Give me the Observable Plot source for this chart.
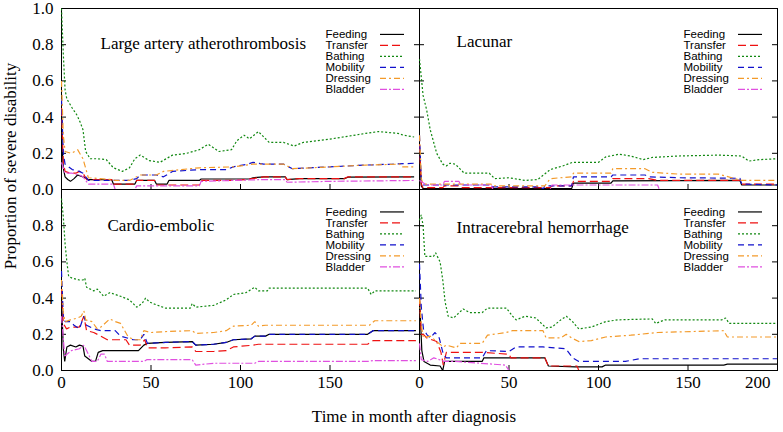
<!DOCTYPE html>
<html><head><meta charset="utf-8">
<script src="https://cdn.jsdelivr.net/npm/d3@7"></script>
<script src="https://cdn.jsdelivr.net/npm/@observablehq/plot@0.6"></script>
<style>body{margin:0;background:#fff} #chart{width:783px;height:432px}</style>
</head><body><div id="chart"></div>
<script>
// ---- categories & labels ----
const panelNames = ["Large artery atherothrombosis", "Lacunar", "Cardio-embolic", "Intracerebral hemorrhage"];
const panelCols = [0, 1, 0, 1];
const panelRows = [0, 0, 1, 1];
const seriesNames = ["Feeding", "Transfer", "Bathing", "Mobility", "Dressing", "Bladder"];
const seriesColors = ["#000000", "#ee1111", "#118811", "#1111cc", "#f39a2a", "#e050e0"];
const seriesDashes = ["none", "8,4", "2,2", "6,4", "6,3,2,3", "7,2,2,2"];
const xTicks = [0, 50, 100, 150, 200];
const yTicks = [0, 0.2, 0.4, 0.6, 0.8, 1.0];
const xTitle = "Time in month after diagnosis";
const yTitle = "Proportion of severe disability";

// ---- series values: [month, proportion] ----
// Large artery atherothrombosis
const laaFeeding = [[0,0.3],[1,0.12],[2,0.07],[3.5,0.055],[5,0.045],[7,0.06],[9,0.08],[12,0.07],[15,0.055],[28,0.055],[29,0.03],[41,0.03],[42,0.05],[52,0.05],[53,0.03],[59,0.03],[60,0.05],[77,0.05],[78,0.058],[105,0.058],[107,0.065],[113,0.07],[125,0.07],[126,0.055],[133,0.06],[158,0.06],[160,0.068],[197,0.07]];
const laaTransfer = [[0,0.45],[1,0.15],[2,0.1],[5,0.09],[8,0.09],[10,0.1],[12,0.09],[14,0.055],[28,0.055],[29,0.03],[41,0.03],[42,0.05],[52,0.05],[53,0.025],[77,0.025],[78,0.05],[96,0.05],[103,0.055],[110,0.065],[113,0.07],[125,0.07],[126,0.055],[133,0.06],[158,0.06],[160,0.07],[197,0.07]];
const laaBathing = [[0,1.0],[1,0.75],[2,0.55],[3,0.5],[6,0.45],[8.7,0.41],[10.5,0.37],[12,0.33],[13.5,0.21],[16,0.17],[20,0.17],[25,0.165],[29,0.12],[34,0.1],[38,0.12],[41,0.17],[44,0.19],[49,0.16],[55,0.15],[62,0.19],[70,0.2],[77,0.22],[82,0.25],[88,0.21],[95,0.22],[98,0.27],[102,0.3],[105,0.28],[110,0.32],[116,0.26],[124,0.26],[130,0.24],[135,0.26],[151,0.28],[170,0.31],[177,0.32],[188,0.31],[191,0.3],[197,0.29]];
const laaMobility = [[0,0.5],[1,0.2],[2,0.14],[6,0.11],[10,0.1],[12,0.09],[15,0.05],[38,0.05],[42,0.06],[44,0.08],[53,0.08],[57,0.07],[62,0.1],[77,0.11],[92,0.11],[96,0.125],[104,0.14],[107,0.15],[113,0.14],[124,0.14],[129,0.115],[150,0.125],[170,0.135],[185,0.14],[197,0.145]];
const laaDressing = [[0,0.6],[1,0.3],[2,0.21],[5.5,0.2],[9,0.22],[12,0.17],[15,0.065],[28,0.055],[30,0.05],[38,0.05],[42,0.07],[44,0.08],[53,0.08],[57,0.1],[77,0.12],[96,0.125],[107,0.14],[124,0.14],[129,0.115],[150,0.125],[170,0.135],[189,0.14],[190,0.125],[197,0.125]];
const laaBladder = [[0,0.15],[2,0.09],[6,0.09],[10,0.08],[12,0.07],[15,0.03],[29,0.03],[30,0.0],[41,0.0],[42,0.02],[77,0.02],[78,0.045],[96,0.05],[113,0.055],[125,0.055],[126,0.04],[150,0.045],[197,0.05]];
// Lacunar
const lacFeeding = [[0,0.2],[1,0.02],[2,0.005],[85,0.005],[86,0.035],[107,0.035],[108,0.048],[179,0.05],[180,0.025],[200,0.025]];
const lacTransfer = [[0,0.25],[1,0.03],[2,0.01],[13,0.01],[14,0.02],[22,0.02],[23,0.01],[73,0.01],[74,0.02],[85,0.02],[86,0.045],[107,0.045],[108,0.06],[128,0.06],[133,0.05],[179,0.05],[180,0.03],[200,0.03]];
const lacBathing = [[0,0.72],[1,0.62],[2,0.52],[4,0.44],[6,0.33],[9.6,0.2],[13,0.14],[15,0.13],[17,0.145],[20,0.14],[25,0.09],[39,0.09],[42,0.06],[50,0.065],[59,0.05],[66,0.055],[73,0.11],[80,0.13],[85.5,0.15],[100,0.15],[104,0.18],[111.5,0.195],[118,0.185],[125,0.165],[130,0.177],[144,0.185],[167,0.19],[180,0.185],[184,0.157],[190,0.165],[200,0.17]];
const lacMobility = [[0,0.3],[1,0.05],[2,0.025],[40,0.025],[41,0.015],[68,0.015],[69,0.0],[70,0.02],[85,0.02],[86,0.07],[107,0.07],[108,0.08],[126,0.08],[128,0.07],[145,0.065],[179,0.062],[180,0.03],[200,0.025]];
const lacDressing = [[0,0.3],[1,0.06],[2,0.03],[40,0.03],[41,0.02],[70,0.02],[73,0.06],[85,0.07],[86,0.09],[107,0.09],[108,0.115],[126,0.115],[130,0.095],[145,0.085],[167,0.085],[180,0.05],[200,0.05]];
const lacBladder = [[0,0.05],[4,0.025],[13,0.025],[14,0.045],[22,0.045],[23,0.025],[40,0.025],[41,0.0],[73,0.0],[74,0.025],[133,0.025],[134,0.0],[200,0.0]];
// Cardio-embolic
const ceFeeding = [[0,0.4],[1,0.12],[1.8,0.05],[3,0.13],[5,0.14],[8,0.13],[10,0.14],[12,0.135],[13,0.08],[15,0.065],[17,0.05],[19,0.05],[20.5,0.1],[23,0.11],[43,0.11],[46,0.14],[48,0.15],[58,0.155],[73,0.16],[75,0.14],[85,0.145],[92,0.155],[96,0.17],[106,0.175],[108,0.19],[114,0.19],[116,0.2],[171,0.2],[174,0.22],[198,0.22]];
const ceTransfer = [[0,0.45],[1,0.26],[2.8,0.23],[5,0.24],[10,0.24],[12.5,0.3],[14,0.22],[18,0.21],[22,0.19],[25.6,0.17],[36,0.17],[38,0.14],[44,0.14],[46.5,0.17],[48,0.125],[58,0.125],[73,0.13],[75,0.105],[85,0.105],[92,0.11],[96,0.13],[107,0.14],[110,0.145],[171,0.145],[174,0.165],[198,0.165]];
const ceBathing = [[0,0.95],[1,0.85],[2,0.7],[3,0.6],[4,0.52],[6,0.51],[10,0.5],[12,0.5],[13,0.51],[14,0.46],[18,0.44],[20,0.45],[23.6,0.41],[27,0.43],[33,0.41],[38,0.39],[42,0.35],[45,0.37],[47,0.4],[49,0.38],[51,0.37],[58,0.345],[72,0.345],[73,0.37],[75,0.35],[85,0.36],[92,0.39],[96,0.42],[103,0.43],[108,0.46],[110,0.44],[115,0.44],[116,0.455],[171,0.455],[173,0.42],[175,0.44],[198,0.44]];
const ceMobility = [[0,0.55],[1,0.3],[2,0.27],[5,0.27],[7,0.25],[10,0.23],[12.5,0.3],[14,0.25],[18,0.23],[22,0.22],[30,0.22],[33,0.19],[40,0.17],[44,0.17],[46,0.2],[48,0.15],[58,0.155],[73,0.16],[75,0.14],[85,0.145],[92,0.155],[96,0.17],[106,0.175],[108,0.19],[114,0.19],[116,0.2],[171,0.2],[174,0.22],[198,0.22]];
const ceDressing = [[0,0.5],[1,0.32],[2,0.27],[5,0.28],[9,0.29],[11,0.3],[12.5,0.33],[13.5,0.28],[17,0.27],[20,0.23],[22,0.24],[27,0.285],[30,0.27],[33,0.26],[37,0.19],[40,0.17],[44,0.17],[46,0.22],[50,0.21],[58,0.215],[73,0.22],[75,0.205],[85,0.21],[92,0.22],[96,0.245],[106,0.25],[108,0.27],[110,0.245],[114,0.25],[172,0.25],[175,0.275],[198,0.275]];
const ceBladder = [[0,0.3],[1.8,0.08],[5.5,0.11],[10,0.12],[12.4,0.14],[14,0.11],[17,0.05],[20,0.05],[22,0.09],[24,0.09],[25.6,0.05],[46,0.05],[47.6,0.06],[73,0.06],[75,0.03],[85,0.04],[108,0.04],[110,0.05],[171,0.05],[174,0.055],[198,0.055]];
// Intracerebral hemorrhage
const ichFeeding = [[0,0.4],[1.3,0.11],[2.5,0.05],[6,0.03],[11.5,0.025],[13,0.0],[14,0.05],[35,0.05],[36,0.07],[70,0.07],[72,0.025],[87,0.02],[102,0.02],[104,0.03],[170,0.03],[172,0.035],[200,0.035]];
const ichTransfer = [[0,0.4],[1,0.2],[2.2,0.2],[4,0.18],[9.6,0.16],[12,0.1],[13.3,0.03],[15,0.1],[35,0.1],[50,0.09],[51,0.07],[70,0.07],[72,0.025],[88,0.025],[89,0.0],[200,0.0]];
const ichBathing = [[0,0.83],[1,0.86],[2,0.8],[3,0.63],[7.8,0.63],[9,0.65],[11.5,0.6],[13,0.5],[14.3,0.38],[16,0.3],[19,0.29],[24.4,0.34],[28,0.32],[35,0.32],[38,0.345],[48.5,0.345],[52,0.3],[54,0.28],[59,0.3],[65,0.29],[70.7,0.235],[74,0.24],[79,0.28],[82,0.3],[85.5,0.27],[89,0.23],[96,0.24],[104,0.27],[111,0.28],[130,0.285],[132,0.26],[137,0.28],[169,0.28],[171,0.29],[173,0.26],[200,0.26]];
const ichMobility = [[0,0.59],[1,0.35],[2.2,0.23],[4,0.2],[6,0.18],[8.7,0.21],[11,0.18],[13.3,0.09],[15,0.07],[35,0.07],[37.4,0.11],[50,0.105],[54,0.13],[69,0.13],[81.8,0.12],[85.5,0.07],[89,0.05],[115,0.05],[122.6,0.065],[200,0.065]];
const ichDressing = [[0,0.4],[1,0.25],[2.2,0.18],[6,0.19],[9.6,0.16],[13.3,0.13],[15,0.14],[20.7,0.125],[22.6,0.15],[35,0.15],[38,0.195],[48.5,0.21],[52,0.22],[69,0.22],[70.7,0.18],[79,0.18],[82,0.2],[85,0.18],[89,0.16],[96,0.165],[104,0.185],[118,0.195],[133,0.21],[170,0.22],[172,0.185],[200,0.185]];
const ichBladder = [[0,0.15],[1,0.06],[4.5,0.05],[8,0.07],[11,0.06],[14,0.05],[20,0.05],[48,0.03],[50,0.0],[200,0.0]];

const panelSeries = [
  [laaFeeding, laaTransfer, laaBathing, laaMobility, laaDressing, laaBladder],
  [lacFeeding, lacTransfer, lacBathing, lacMobility, lacDressing, lacBladder],
  [ceFeeding, ceTransfer, ceBathing, ceMobility, ceDressing, ceBladder],
  [ichFeeding, ichTransfer, ichBathing, ichMobility, ichDressing, ichBladder]
];

// ---- layout ----
const W = 783, H = 432, mL = 61, mR = 6, mT = 7, mB = 62;
const facetW = (W - mL - mR) / 2, facetH = (H - mT - mB) / 2;
const xMax = 200;
const pxX = px => px * xMax / facetW;   // pixel length -> x data units
const pxY = px => px / facetH;          // pixel length -> y data units
const serif = "'Liberation Serif', 'Times New Roman', serif";
const sans = "'Liberation Sans', Arial, sans-serif";

const panels = panelNames.map((name, i) => ({name, col: panelCols[i], row: panelRows[i], i}));
const titleDx = [39, 37, 46, 37];
const titleDy = [35, 33, 36.5, 38.5];
const legendDy0 = [26, 26, 22.5, 22.5];

const rowsBySeries = seriesNames.map((s, k) =>
  panels.flatMap(p => panelSeries[p.i][k].map(([t, v]) => ({panel: p.name, col: p.col, row: p.row, series: s, t, v}))));

const xTickRows = panels.flatMap(p => xTicks.filter(t => p.col === 1 || t < xMax).map(t => ({col: p.col, row: p.row, t})));
const yTickRows = panels.flatMap(p => yTicks.map(v => ({col: p.col, row: p.row, v})));
const xLabelRows = xTickRows.filter(d => d.row === 1 && d.t < xMax);
const xLastLabelRows = xTickRows.filter(d => d.row === 1 && d.t === xMax);
const yLabelRows = panels.filter(p => p.col === 0).flatMap(p => yTicks.filter(v => p.row === 0 || v < 1).map(v => ({col: p.col, row: p.row, v})));

const marks = [
  Plot.frame({stroke: "#000", strokeWidth: 1}),
  Plot.ruleX(xTickRows, {x: "t", fx: "col", fy: "row", y1: 0, y2: pxY(5), stroke: "#000"}),
  Plot.ruleY(yTickRows, {y: "v", fx: "col", fy: "row", x1: 0, x2: pxX(5), stroke: "#000"}),
  Plot.ruleY(yTickRows, {y: "v", fx: "col", fy: "row", x1: xMax - pxX(5), x2: xMax, stroke: "#000"}),
  Plot.text(xLabelRows, {x: "t", fx: "col", fy: "row", frameAnchor: "bottom", dy: 17, text: d => String(d.t), fontSize: 17, fontFamily: serif, fill: "#000"}),
  Plot.text(xLastLabelRows, {x: "t", fx: "col", fy: "row", frameAnchor: "bottom", dy: 17, dx: -7, textAnchor: "end", text: d => String(d.t), fontSize: 17, fontFamily: serif, fill: "#000"}),
  Plot.text(yLabelRows, {y: "v", fx: "col", fy: "row", frameAnchor: "left", dx: -8, textAnchor: "end", text: d => d.v.toFixed(1), fontSize: 17, fontFamily: serif, fill: "#000"})
];

seriesNames.forEach((s, k) => {
  marks.push(Plot.line(rowsBySeries[k], {
    x: "t", y: "v", fx: "col", fy: "row", stroke: seriesColors[k],
    strokeWidth: 1.2, strokeDasharray: seriesDashes[k], strokeLinecap: "butt", strokeLinejoin: "miter", clip: true
  }));
});

panels.forEach(p => {
  marks.push(Plot.text([p], {fx: "col", fy: "row", frameAnchor: "top-left", dx: titleDx[p.i], dy: titleDy[p.i],
    lineAnchor: "middle", textAnchor: "start", text: "name", fontSize: 17, fontFamily: serif, fill: "#000"}));
  seriesNames.forEach((s, k) => {
    const dy = legendDy0[p.i] + k * 11;
    marks.push(Plot.text([p], {fx: "col", fy: "row", frameAnchor: "top-right", dx: -94, dy,
      lineAnchor: "middle", textAnchor: "start", text: () => s, fontSize: 11.5, fontFamily: sans, fill: "#000"}));
    marks.push(Plot.ruleY([p], {fx: "col", fy: "row", y: () => 1 - pxY(dy), x1: xMax - pxX(39), x2: xMax - pxX(15),
      stroke: seriesColors[k], strokeWidth: 1.2, strokeDasharray: seriesDashes[k]}));
  });
});

const chart = Plot.plot({
  width: W, height: H,
  marginLeft: mL, marginRight: mR, marginTop: mT, marginBottom: mB,
  x: {domain: [0, xMax], axis: null},
  y: {domain: [0, 1], axis: null},
  fx: {padding: 0, axis: null},
  fy: {padding: 0, axis: null},
  style: {background: "#fff", color: "#000", overflow: "visible"},
  marks
});

const svg = d3.select(chart);
svg.append("text").attr("x", 414).attr("y", 418).attr("text-anchor", "middle").attr("dominant-baseline", "middle")
  .style("font-family", serif).style("font-size", "17px").attr("fill", "#000").text(xTitle);
svg.append("text").attr("transform", "translate(12,166) rotate(-90)").attr("text-anchor", "middle").attr("dominant-baseline", "middle")
  .style("font-family", serif).style("font-size", "17px").attr("fill", "#000").text(yTitle);

document.getElementById("chart").appendChild(chart);
</script></body></html>
